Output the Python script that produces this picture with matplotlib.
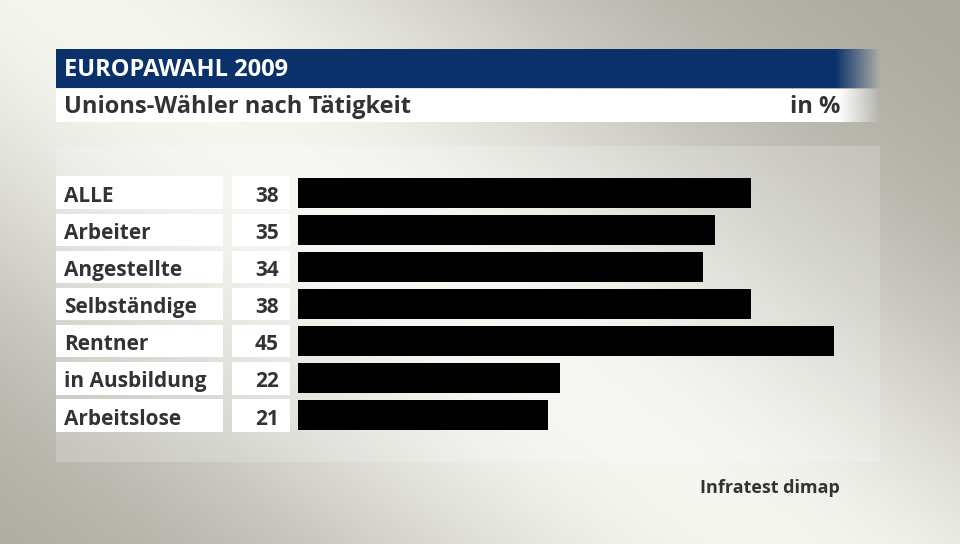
import numpy as np
import matplotlib.pyplot as plt
from matplotlib.patches import Rectangle

# data
categories = ['ALLE', 'Arbeiter', 'Angestellte', 'Selbständige', 'Rentner', 'in Ausbildung', 'Arbeitslose']
values = [38, 35, 34, 38, 45, 22, 21]

title = 'EUROPAWAHL 2009'
subtitle = 'Unions-Wähler nach Tätigkeit'
unit = 'in %'
source = 'Infratest dimap'

navy = '#0b316b'
textcol = '#333333'
font = 'Open Sans'

W, H = 960, 544
fig = plt.figure(figsize=(9.6, 5.44), dpi=100)

# background axes in pixel coords
bg = fig.add_axes([0, 0, 1, 1])
bg.set_xlim(0, W)
bg.set_ylim(H, 0)
bg.axis('off')

# diagonal light band background
yy, xx = np.mgrid[0:H, 0:W]
p0 = np.array([40.0, -20.0])
d = np.array([720.0, 560.0])
d /= np.linalg.norm(d)
nrm = np.array([-d[1], d[0]])
dist = (xx - p0[0]) * nrm[0] + (yy - p0[1]) * nrm[1]
light = np.exp(-(dist / 300.0) ** 2)
c_dark = np.array([0.66, 0.655, 0.615])
c_light = np.array([0.965, 0.965, 0.945])
img = c_dark + (c_light - c_dark) * light[..., None]
bg.imshow(img, extent=(0, W, H, 0), aspect='auto', zorder=0)

# lighter chart panel
bg.add_patch(Rectangle((56, 146), 824, 316, facecolor='white', alpha=0.18, edgecolor='none', zorder=1))

def faded_strip(x0, x1, y0, y1, color, fade_start):
    xs = np.arange(x0, x1)
    a = np.clip((x1 - xs) / (x1 - fade_start), 0, 1)
    rgba = np.zeros((1, len(xs), 4))
    rgba[..., :3] = plt.matplotlib.colors.to_rgb(color)
    rgba[..., 3] = a
    bg.imshow(rgba, extent=(x0, x1, y1, y0), aspect='auto', zorder=2, interpolation='bilinear')

faded_strip(56, 880, 49, 88, navy, 835)
faded_strip(56, 880, 89, 122, 'white', 838)
bg.set_xlim(0, W)
bg.set_ylim(H, 0)

bg.text(64, 76, title, color='white', fontsize=17, fontweight='bold', family=font, va='baseline', ha='left', zorder=3)
bg.text(64, 113.3, subtitle, color=textcol, fontsize=17, fontweight='bold', family=font, va='baseline', ha='left', zorder=3)
bg.text(840, 113.3, unit, color=textcol, fontsize=17, fontweight='bold', family=font, va='baseline', ha='right', zorder=3)
bg.text(840, 493.3, source, color=textcol, fontsize=13, fontweight='bold', family=font, va='baseline', ha='right', zorder=3)

# bar axes
px_unit = 11.91
row_h = 37.08
top_px = 192.8 - 0.5 * row_h
bot_px = top_px + len(categories) * row_h
left_px = 298
ax = fig.add_axes([left_px / W, (H - bot_px) / H, 50 * px_unit / W, (bot_px - top_px) / H])
ax.set_xlim(0, 50)
ax.set_ylim(len(categories) - 0.5, -0.5)
ax.axis('off')

y = np.arange(len(categories))
ax.barh(y, values, height=0.82, color='black', edgecolor='none', zorder=3)

lab_x0 = (56 - left_px) / px_unit
lab_x1 = (223 - left_px) / px_unit
val_x0 = (232 - left_px) / px_unit
val_x1 = (289.5 - left_px) / px_unit
for i, (cat, v) in enumerate(zip(categories, values)):
    ax.add_patch(Rectangle((lab_x0, i - 0.44), lab_x1 - lab_x0, 0.88, facecolor='white', edgecolor='none', clip_on=False, zorder=2))
    ax.add_patch(Rectangle((val_x0, i - 0.44), val_x1 - val_x0, 0.88, facecolor='white', edgecolor='none', clip_on=False, zorder=2))
    ax.text((64 - left_px) / px_unit, i + 0.25, cat, color=textcol, fontsize=15, fontweight='bold', family=font, va='baseline', ha='left', zorder=4, clip_on=False)
    ax.text((279 - left_px) / px_unit, i + 0.25, str(v), color=textcol, fontsize=15, fontweight='bold', family=font, va='baseline', ha='right', zorder=4, clip_on=False)

fig.savefig('out.png', dpi=100)
